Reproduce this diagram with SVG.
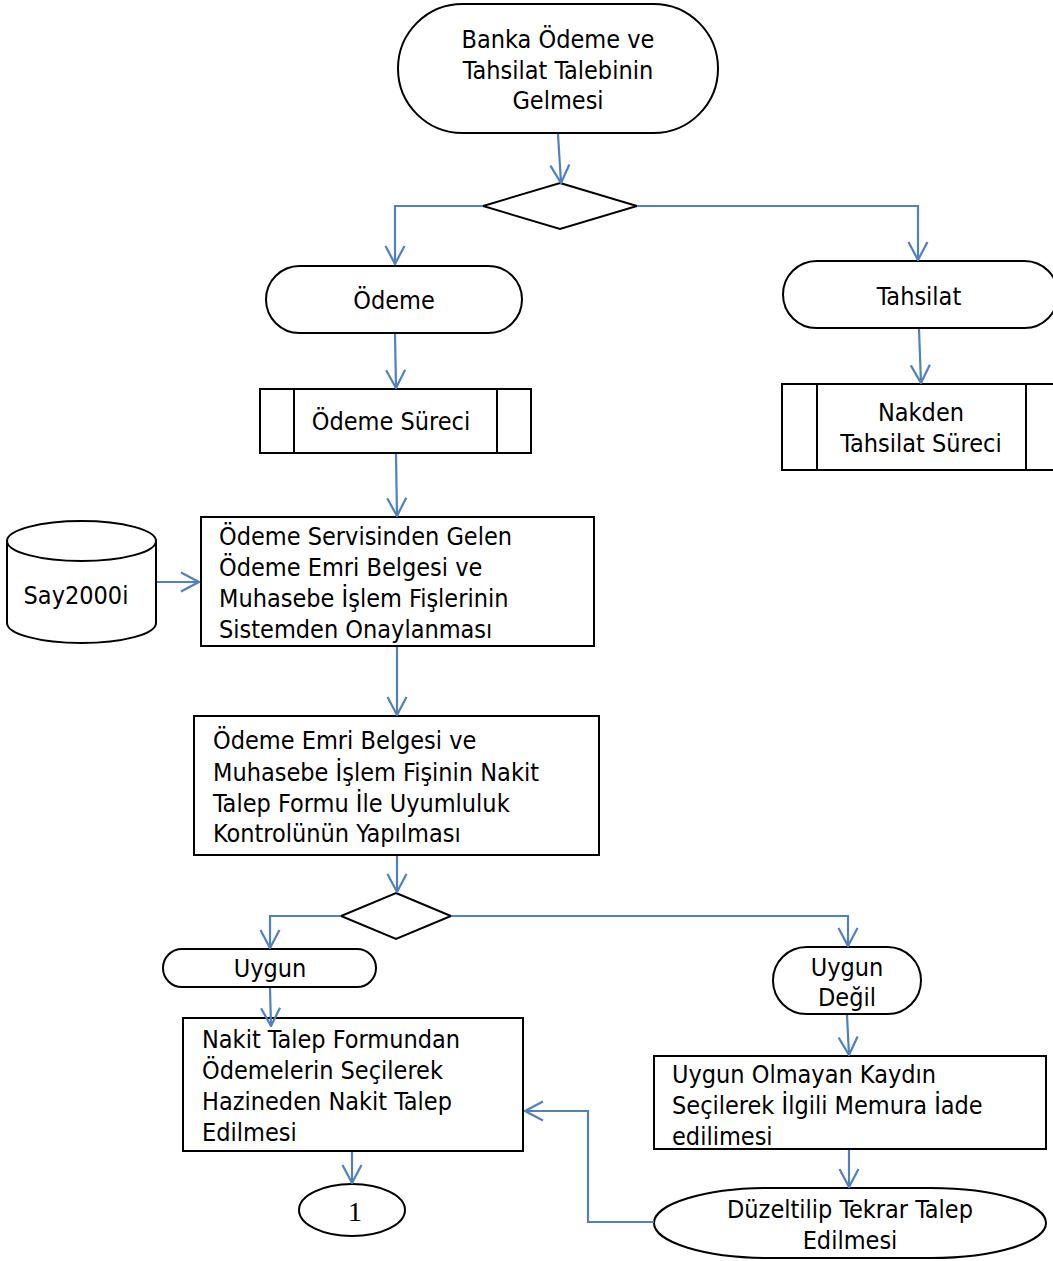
<svg xmlns="http://www.w3.org/2000/svg" width="1053" height="1261" viewBox="0 0 1053 1261">
<style>
.s{fill:#fff;stroke:#000;stroke-width:2}
.t{font-family:"DejaVu Sans Condensed","DejaVu Sans",sans-serif;font-stretch:condensed;font-size:25px;fill:#000}
.c{text-anchor:middle}
.e{fill:none;stroke:#4F81BD;stroke-width:2.2}
.n{font-family:"Liberation Serif",serif;font-size:28px;text-anchor:middle}
</style>
<defs>
<marker id="a" viewBox="0 0 20 22" refX="19" refY="11" markerWidth="20" markerHeight="22" markerUnits="userSpaceOnUse" orient="auto">
<path d="M1,1.5 L19,11 L1,20.5" fill="none" stroke="#4F81BD" stroke-width="2.2"/>
</marker>
</defs>
<rect width="1053" height="1261" fill="#fff"/>
<g id="start">
<rect class="s" x="398" y="4" width="320" height="129" rx="64.5"/>
<text class="t c" x="558" y="48">Banka Ödeme ve</text>
<text class="t c" x="558" y="79">Tahsilat Talebinin</text>
<text class="t c" x="558" y="109">Gelmesi</text>
</g>
<g id="decision1">
<polygon class="s" points="560,183 637,206 560,229 483,206"/>
</g>
<g id="odeme">
<rect class="s" x="266" y="266" width="256" height="67" rx="33.5"/>
<text class="t c" x="394" y="309">Ödeme</text>
</g>
<g id="tahsilat">
<rect class="s" x="783" y="261" width="275" height="67" rx="33.5"/>
<text class="t c" x="919" y="305">Tahsilat</text>
</g>
<g id="odeme-sureci">
<rect class="s" x="260" y="389" width="271" height="64"/>
<line class="s" x1="294" y1="389" x2="294" y2="453"/>
<line class="s" x1="497" y1="389" x2="497" y2="453"/>
<text class="t c" x="391" y="430">Ödeme Süreci</text>
</g>
<g id="nakden">
<rect class="s" x="782" y="384" width="280" height="86"/>
<line class="s" x1="817" y1="384" x2="817" y2="470"/>
<line class="s" x1="1026" y1="384" x2="1026" y2="470"/>
<text class="t c" x="921" y="421">Nakden</text>
<text class="t c" x="921" y="452">Tahsilat Süreci</text>
</g>
<g id="say2000i">
<path class="s" d="M7,541 A74.5,20 0 0 1 156,541 L156,623 A74.5,20 0 0 1 7,623 Z"/>
<path class="s" d="M7,541 A74.5,20 0 0 0 156,541" fill="none"/>
<text class="t c" x="76" y="604">Say2000i</text>
</g>
<g id="onay">
<rect class="s" x="201" y="517" width="393" height="129"/>
<text class="t" x="219" y="545">Ödeme Servisinden Gelen</text>
<text class="t" x="219" y="576">Ödeme Emri Belgesi ve</text>
<text class="t" x="219" y="607">Muhasebe İşlem Fişlerinin</text>
<text class="t" x="219" y="638">Sistemden Onaylanması</text>
</g>
<g id="kontrol">
<rect class="s" x="194" y="716" width="405" height="139"/>
<text class="t" x="213" y="749">Ödeme Emri Belgesi ve</text>
<text class="t" x="213" y="781">Muhasebe İşlem Fişinin Nakit</text>
<text class="t" x="213" y="812">Talep Formu İle Uyumluluk</text>
<text class="t" x="213" y="842">Kontrolünün Yapılması</text>
</g>
<g id="decision2">
<polygon class="s" points="396,893 451,916 396,939 341,916"/>
</g>
<g id="uygun">
<rect class="s" x="163" y="949" width="213" height="38" rx="19"/>
<text class="t c" x="270" y="977">Uygun</text>
</g>
<g id="uygun-degil">
<rect class="s" x="773" y="947" width="148" height="67" rx="33.5"/>
<text class="t c" x="847" y="976">Uygun</text>
<text class="t c" x="847" y="1006">Değil</text>
</g>
<g id="nakit-talep">
<rect class="s" x="183" y="1018" width="340" height="133"/>
<text class="t" x="202" y="1048">Nakit Talep Formundan</text>
<text class="t" x="202" y="1079">Ödemelerin Seçilerek</text>
<text class="t" x="202" y="1110">Hazineden Nakit Talep</text>
<text class="t" x="202" y="1141">Edilmesi</text>
</g>
<g id="iade">
<rect class="s" x="654" y="1056" width="392" height="93"/>
<text class="t" x="672" y="1083">Uygun Olmayan Kaydın</text>
<text class="t" x="672" y="1114">Seçilerek İlgili Memura İade</text>
<text class="t" x="672" y="1145">edilimesi</text>
</g>
<g id="duzeltilip">
<rect class="s" x="654" y="1188" width="392" height="70" rx="115" ry="35"/>
<text class="t c" x="850" y="1218">Düzeltilip Tekrar Talep</text>
<text class="t c" x="850" y="1249">Edilmesi</text>
</g>
<g id="connector-1">
<ellipse class="s" cx="352" cy="1210" rx="53" ry="26"/>
<text class="n" x="355" y="1221">1</text>
</g>
<g id="connectors">
<path class="e" d="M558,134 L561,183" marker-end="url(#a)"/>
<path class="e" d="M483,206 L395,206 L395,264" marker-end="url(#a)"/>
<path class="e" d="M637,206 L918,206 L918,260" marker-end="url(#a)"/>
<path class="e" d="M395,334 L396,388" marker-end="url(#a)"/>
<path class="e" d="M919,329 L921,383" marker-end="url(#a)"/>
<path class="e" d="M396,454 L397,516" marker-end="url(#a)"/>
<path class="e" d="M157,582 L199,582" marker-end="url(#a)"/>
<path class="e" d="M397,647 L397,715" marker-end="url(#a)"/>
<path class="e" d="M397,856 L397,892" marker-end="url(#a)"/>
<path class="e" d="M341,916 L270,916 L270,948" marker-end="url(#a)"/>
<path class="e" d="M451,916 L848,916 L848,946" marker-end="url(#a)"/>
<path class="e" d="M270,988 L271,1026" marker-end="url(#a)"/>
<path class="e" d="M847,1015 L849,1055" marker-end="url(#a)"/>
<path class="e" d="M849,1150 L849,1187" marker-end="url(#a)"/>
<path class="e" d="M654,1222 L588,1222 L588,1111 L525,1111" marker-end="url(#a)"/>
<path class="e" d="M352,1152 L352,1183" marker-end="url(#a)"/>
</g>
</svg>
